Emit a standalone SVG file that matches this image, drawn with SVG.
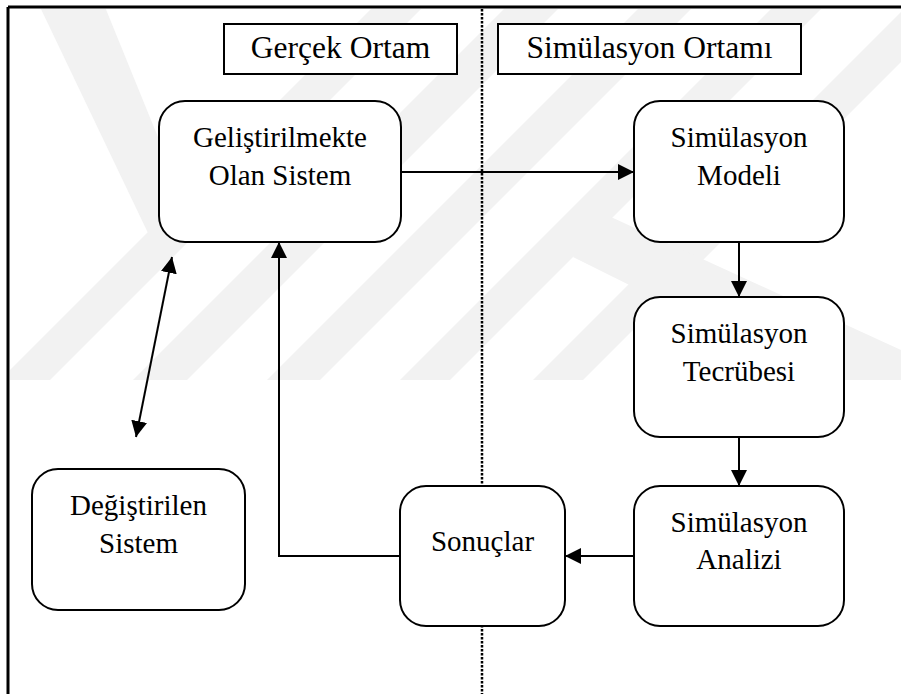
<svg xmlns="http://www.w3.org/2000/svg" width="901" height="694" viewBox="0 0 901 694">
<defs>
<style>
.node{fill:#fff;stroke:#000;stroke-width:2}
.hdr{fill:#fff;stroke:#000;stroke-width:2}
.t{font-family:"Liberation Serif","Times New Roman",serif;font-size:29px;fill:#000;text-anchor:middle}
.th{font-family:"Liberation Serif","Times New Roman",serif;font-size:31.5px;fill:#000;text-anchor:middle}
.c{fill:none;stroke:#000;stroke-width:2}
.wm{fill:#f2f2f2;stroke:none}
</style>
<marker id="ah" markerUnits="userSpaceOnUse" markerWidth="16" markerHeight="16" refX="15" refY="7.5" orient="auto-start-reverse" viewBox="0 0 15 15">
<path d="M0,0 L15,7.5 L0,15 z" fill="#000"/>
</marker>
<clipPath id="wmclip"><rect x="10" y="9" width="891" height="371"/></clipPath>
</defs>
<rect width="901" height="694" fill="#fff"/>
<g id="watermark" clip-path="url(#wmclip)">
<polygon class="wm" points="40,7 105,7 197,233 148,233"/>
<polygon class="wm" points="0,380 50,380 423,7 373,7"/>
<polygon class="wm" points="133,380 187,380 560,7 506,7"/>
<polygon class="wm" points="267,380 320,380 693,7 640,7"/>
<polygon class="wm" points="400,380 450,380 823,7 773,7"/>
<polygon class="wm" points="533,380 583,380 956,7 906,7"/>
<polygon class="wm" points="573,257 600,212 901,350 901,380 820,380"/>
</g>
<g id="frame">
<line x1="8" y1="7" x2="901" y2="7" stroke="#000" stroke-width="3"/>
<line x1="8" y1="7" x2="8" y2="694" stroke="#000" stroke-width="3"/>
</g>
<line id="divider" x1="482" y1="9" x2="482" y2="694" stroke="#000" stroke-width="2.5" stroke-dasharray="2.5 1.5"/>
<g id="connectors">
<line class="c" x1="401" y1="172" x2="634" y2="172" marker-end="url(#ah)"/>
<line class="c" x1="739" y1="242" x2="739" y2="297" marker-end="url(#ah)"/>
<line class="c" x1="739" y1="437" x2="739" y2="486" marker-end="url(#ah)"/>
<line class="c" x1="634" y1="556" x2="565" y2="556" marker-end="url(#ah)"/>
<polyline class="c" points="400,556 279,556 279,242" marker-end="url(#ah)"/>
<line class="c" x1="136" y1="437" x2="172" y2="257" marker-start="url(#ah)" marker-end="url(#ah)"/>
</g>
<g id="hdr-gercek">
<rect class="hdr" x="224" y="24" width="233" height="50"/>
<text class="th" x="340.5" y="58">Gerçek Ortam</text>
</g>
<g id="hdr-simulasyon">
<rect class="hdr" x="498" y="24" width="303" height="50"/>
<text class="th" x="649.5" y="58">Simülasyon Ortamı</text>
</g>
<g id="n-gelistirilmekte">
<rect class="node" x="159" y="101" width="242" height="141" rx="26" ry="26"/>
<text class="t" x="280" y="147">Geliştirilmekte</text>
<text class="t" x="280" y="185">Olan Sistem</text>
</g>
<g id="n-model">
<rect class="node" x="634" y="101" width="210" height="141" rx="26" ry="26"/>
<text class="t" x="739" y="147">Simülasyon</text>
<text class="t" x="739" y="185">Modeli</text>
</g>
<g id="n-tecrube">
<rect class="node" x="634" y="297" width="210" height="140" rx="26" ry="26"/>
<text class="t" x="739" y="343">Simülasyon</text>
<text class="t" x="739" y="381">Tecrübesi</text>
</g>
<g id="n-analiz">
<rect class="node" x="634" y="486" width="210" height="140" rx="26" ry="26"/>
<text class="t" x="739" y="532">Simülasyon</text>
<text class="t" x="739" y="569">Analizi</text>
</g>
<g id="n-sonuclar">
<rect class="node" x="400" y="486" width="165" height="140" rx="26" ry="26"/>
<text class="t" x="482.5" y="551">Sonuçlar</text>
</g>
<g id="n-degistirilen">
<rect class="node" x="32" y="469" width="213" height="141" rx="26" ry="26"/>
<text class="t" x="138.5" y="515">Değiştirilen</text>
<text class="t" x="138.5" y="553">Sistem</text>
</g>
</svg>
